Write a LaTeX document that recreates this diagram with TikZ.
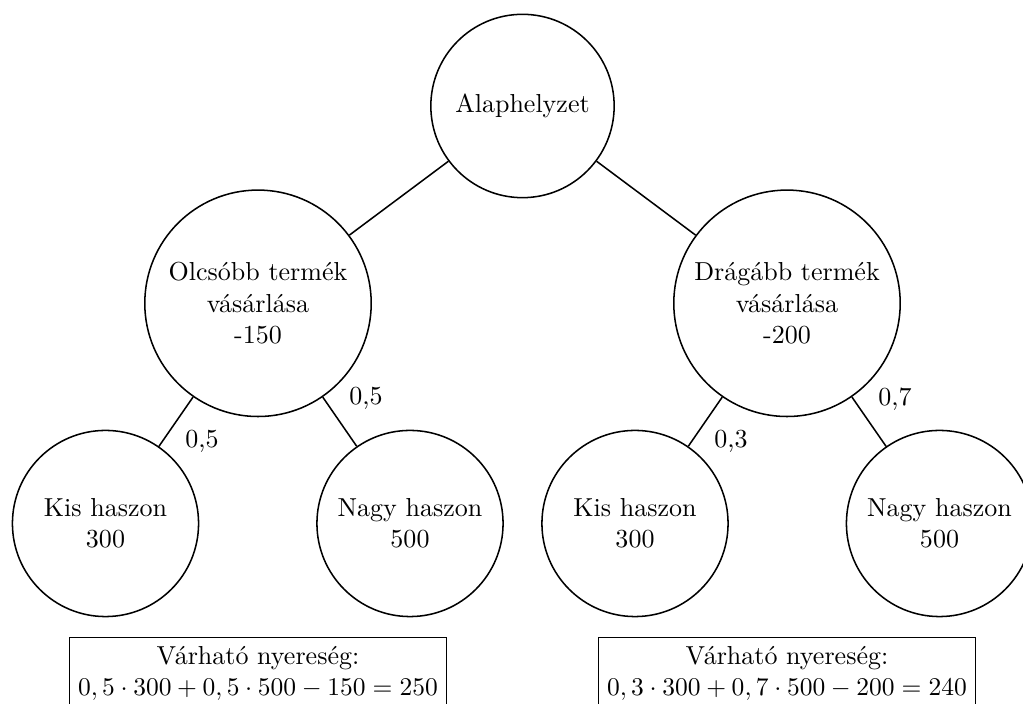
\documentclass[tikz,border=0pt]{standalone}
\begin{document}
\begin{tikzpicture}[x=0.39216pt, y=-0.39216pt,
  every node/.style={font=\fontsize{10.2pt}{12.35pt}\selectfont},
  treenode/.style={circle, draw, line width=0.6pt, inner sep=0pt, align=center},
  rootnode/.style={treenode, minimum size=71.9pt},
  midnode/.style={treenode, minimum size=88.8pt},
  leafnode/.style={treenode, minimum size=73.0pt},
  sumbox/.style={draw, line width=0.6pt, align=center, anchor=north, inner sep=3.4pt},
  problbl/.style={inner sep=0pt},
  conn/.style={line width=0.6pt}]
\useasboundingbox (0,0) rectangle (1023,704);

\node[rootnode] (root) at (522.5,106) {Alaphelyzet};
\node[midnode] (m1) at (258,303.3) {Olcsóbb termék\\vásárlása\\-150};
\node[midnode] (m2) at (787,303.3) {Drágább termék\\vásárlása\\-200};
\node[leafnode] (l1) at (105.5,523.5) {Kis haszon\\300};
\node[leafnode] (l2) at (410,523.5) {Nagy haszon\\500};
\node[leafnode] (l3) at (635,523.5) {Kis haszon\\300};
\node[leafnode] (l4) at (939.5,523.5) {Nagy haszon\\500};

\draw[conn] (root) -- (m1);
\draw[conn] (root) -- (m2);
\draw[conn] (m1) -- (l1);
\draw[conn] (m1) -- (l2);
\draw[conn] (m2) -- (l3);
\draw[conn] (m2) -- (l4);

\node[problbl] (p1) at (202,441) {0,5};
\node[problbl] (p2) at (366,398) {0,5};
\node[problbl] (p3) at (731,441) {0,3};
\node[problbl] (p4) at (895,399) {0,7};

\node[sumbox] (b1) at (258,636.7) {Várható nyereség:\\$0,5\cdot 300+0,5\cdot 500-150=250$};
\node[sumbox] (b2) at (787,636.7) {Várható nyereség:\\$0,3\cdot 300+0,7\cdot 500-200=240$};
\end{tikzpicture}
\end{document}
